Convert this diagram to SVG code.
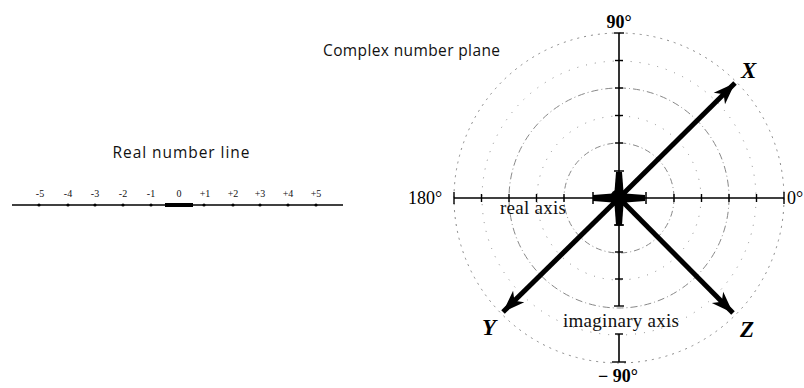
<svg xmlns="http://www.w3.org/2000/svg" width="804" height="388" viewBox="0 0 804 388">
<style>
.title{font-family:"Open Sans","Noto Sans",sans-serif;font-size:15.5px;fill:#111}
.num{font-family:"Liberation Serif",serif;font-size:10px;fill:#111}
.deg{font-family:"Liberation Serif",serif;font-size:18px;fill:#000}
.axl{font-family:"Liberation Serif",serif;font-size:19px;fill:#111}
.vec{font-family:"Liberation Serif",serif;font-size:23px;font-weight:bold;font-style:italic;fill:#000}
.axis{stroke:#000;stroke-width:1.6;fill:none}
.tick{stroke:#000;stroke-width:1.4}
.ring{fill:none;stroke:#888;stroke-width:1}
.vecline{stroke:#000;stroke-width:5;fill:none;stroke-linecap:butt}
</style>
<defs>
<marker id="head" markerUnits="userSpaceOnUse" markerWidth="30" markerHeight="20" refX="22" refY="10" orient="auto">
<path d="M0,2 L22,10 L0,18 L6,10 Z" fill="#000"/>
</marker>
</defs>

<g id="real-number-line">
<text class="title" x="181" y="158" text-anchor="middle" textLength="137">Real number line</text>
<g class="num" text-anchor="middle">
<text x="40" y="197">-5</text><text x="68" y="197">-4</text><text x="95" y="197">-3</text><text x="123" y="197">-2</text><text x="151" y="197">-1</text><text x="179" y="197">0</text><text x="205" y="197">+1</text><text x="233" y="197">+2</text><text x="260" y="197">+3</text><text x="288" y="197">+4</text><text x="316" y="197">+5</text>
</g>
<line class="axis" x1="12" y1="205" x2="343" y2="205"/>
<line x1="165" y1="205" x2="193" y2="205" stroke="#000" stroke-width="4"/>
<g fill="#000">
<circle cx="39" cy="205" r="1.6"/><circle cx="68" cy="205" r="1.6"/><circle cx="95" cy="205" r="1.6"/><circle cx="123" cy="205" r="1.6"/><circle cx="151" cy="205" r="1.6"/><circle cx="204" cy="205" r="1.6"/><circle cx="233" cy="205" r="1.6"/><circle cx="260" cy="205" r="1.6"/><circle cx="288" cy="205" r="1.6"/><circle cx="316" cy="205" r="1.6"/>
</g>
</g>

<g id="complex-plane">
<text class="title" x="323" y="56" textLength="177">Complex number plane</text>
<g id="rings">
<circle class="ring" cx="619" cy="198" r="55" stroke-dasharray="6 3 1 3"/>
<circle class="ring" cx="619" cy="198" r="110" stroke-dasharray="7 3 1 3"/>
<circle class="ring" cx="619" cy="198" r="137" stroke="#c4c4c4" stroke-dasharray="1 8"/>
<circle class="ring" cx="619" cy="198" r="165" stroke="#aaa" stroke-dasharray="2 5"/>
<circle class="ring" cx="619" cy="198" r="82" stroke="#c4c4c4" stroke-dasharray="1 8"/>
</g>
<g id="axes">
<line class="axis" x1="454" y1="198" x2="784" y2="198"/>
<line class="axis" x1="619" y1="33" x2="619" y2="306"/>
<line class="axis" x1="619" y1="334" x2="619" y2="362" stroke="#444"/>
<g class="tick">
<line x1="454" y1="192" x2="454" y2="204"/><line x1="481.5" y1="194" x2="481.5" y2="202"/><line x1="509" y1="194" x2="509" y2="202"/><line x1="536.5" y1="194" x2="536.5" y2="202"/><line x1="564" y1="194" x2="564" y2="202"/>
<line x1="674" y1="194" x2="674" y2="202"/><line x1="701.5" y1="194" x2="701.5" y2="202"/><line x1="729" y1="194" x2="729" y2="202"/><line x1="756.5" y1="194" x2="756.5" y2="202"/><line x1="784" y1="192" x2="784" y2="204"/>
<line x1="614" y1="33" x2="624" y2="33"/><line x1="615" y1="60.5" x2="623" y2="60.5"/><line x1="615" y1="88" x2="623" y2="88"/><line x1="615" y1="115.5" x2="623" y2="115.5"/><line x1="615" y1="143" x2="623" y2="143"/>
<line x1="615" y1="225" x2="623" y2="225"/><line x1="615" y1="252" x2="623" y2="252"/><line x1="615" y1="279" x2="623" y2="279"/><line x1="614" y1="306" x2="624" y2="306"/>
<line x1="615" y1="334" x2="623" y2="334"/><line x1="612" y1="362" x2="626" y2="362"/>
</g>
</g>
<g id="center-star" fill="#000" stroke="#000">
<circle cx="619" cy="198" r="9" stroke="none"/>
<polygon points="593,195 619,193 619,203 593,201" stroke="none"/>
<polygon points="645,195 619,193 619,203 645,201" stroke="none"/>
<polygon points="616,172 622,172 624,198 614,198" stroke="none"/>
<polygon points="616,225 622,225 624,198 614,198" stroke="none"/>
<line x1="593" y1="192" x2="593" y2="204" stroke-width="1.5"/>
<line x1="646" y1="192" x2="646" y2="204" stroke-width="1.5"/>
<line x1="614" y1="171" x2="624" y2="171" stroke-width="1.5"/>
<line x1="614" y1="225" x2="624" y2="225" stroke-width="1.5"/>
</g>
<text class="deg" x="619" y="28" text-anchor="middle" font-weight="bold">90°</text>
<text class="deg" x="408" y="204">180°</text>
<text class="deg" x="787" y="204">0°</text>
<text class="deg" x="618" y="382" text-anchor="middle" font-weight="bold" font-size="17">− 90°</text>
<text class="axl" x="500" y="214" textLength="66">real axis</text>
<text class="axl" x="563" y="327" textLength="116">imaginary axis</text>
</g>

<g id="connectors">
<line class="vecline" x1="619" y1="198" x2="735" y2="83" marker-end="url(#head)"/>
<line class="vecline" x1="619" y1="198" x2="503" y2="312" marker-end="url(#head)"/>
<line class="vecline" x1="619" y1="198" x2="733" y2="313" marker-end="url(#head)"/>
</g>

<g id="vector-labels">
<text class="vec" x="741" y="78">X</text>
<text class="vec" x="482" y="335">Y</text>
<text class="vec" x="740" y="337">Z</text>
</g>
</svg>
